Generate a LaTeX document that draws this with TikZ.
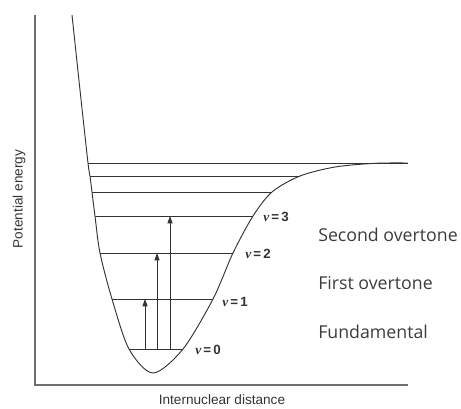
\documentclass[tikz,border=0pt]{standalone}
\usepackage{fontspec}
\setmainfont{Liberation Sans}
\newfontfamily\serifV{Liberation Serif}
\newfontfamily\notaFont{Open Sans}
\usepackage{tikz}
\usetikzlibrary{arrows.meta, positioning, calc}
\definecolor{grisCurva}{HTML}{333333}
\definecolor{grisEje}{HTML}{6E6E6E}
\definecolor{grisTexto}{HTML}{3C3C3C}
\newcommand{\vlev}[1]{{\serifV\itshape v}\,=\,#1}

\begin{document}
\begin{tikzpicture}[x=0.75pt, y=-0.75pt,
        eje/.style={grisEje, line width=0.9pt},
        curva/.style={grisCurva, line width=0.7pt},
        nivel/.style={grisCurva, line width=0.6pt},
        trans/.style={-{Triangle[length=5.5pt, width=3.8pt]}, grisCurva, line width=0.6pt},
        vlab/.style={anchor=west, inner sep=0pt, font=\fontsize{10}{12}\selectfont\bfseries, text=grisCurva},
        nota/.style={anchor=west, inner sep=0pt, font=\notaFont\fontsize{13.3}{16}\selectfont, text=grisTexto},
        ejelab/.style={inner sep=0pt, font=\fontsize{10.2}{12}\selectfont, text=grisCurva}
    ]
        \useasboundingbox (0,0) rectangle (461,408);
        % axes
        \coordinate (ytop) at (35,15);
        \coordinate (orig) at (35,385);
        \coordinate (xend) at (408,385);
        \draw[eje] (ytop) -- (orig) -- (xend);
        \node[ejelab, rotate=90] (ylab) at (19,199) {Potential energy};
        \node[ejelab] (xlab) at (222,400) {Internuclear distance};
        % potential curve
        \draw[curva] plot[smooth, tension=0.5] coordinates {
            (72,15) (80,90) (88,163) (90,176) (92,192) (95,216) (100,253)
            (112,299) (129,349) (153,373) (183,349) (213,299) (233,253)
            (253,216) (272,192) (300,176) (335,167) (375,163.3) (408,163)};
        % vibrational levels
        \coordinate (l0) at (129,349); \coordinate (r0) at (183,349);
        \coordinate (l1) at (112,299); \coordinate (r1) at (213,299);
        \coordinate (l2) at (100,253); \coordinate (r2) at (233,253);
        \coordinate (l3) at (95,216);  \coordinate (r3) at (253,216);
        \coordinate (l4) at (92,192);  \coordinate (r4) at (272,192);
        \coordinate (l5) at (90,176);  \coordinate (r5) at (300,176);
        \coordinate (l6) at (88,163);  \coordinate (r6) at (408,163);
        \draw[nivel] (l0) -- (r0); \draw[nivel] (l1) -- (r1);
        \draw[nivel] (l2) -- (r2); \draw[nivel] (l3) -- (r3);
        \draw[nivel] (l4) -- (r4); \draw[nivel] (l5) -- (r5);
        \draw[nivel] (l6) -- (r6);
        % transitions
        \coordinate (t1a) at (145,349); \coordinate (t1b) at (145,299);
        \coordinate (t2a) at (157,349); \coordinate (t2b) at (157,253);
        \coordinate (t3a) at (170,349); \coordinate (t3b) at (170,216);
        \draw[trans] (t1a) -- (t1b);
        \draw[trans] (t2a) -- (t2b);
        \draw[trans] (t3a) -- (t3b);
        % labels
        \node[vlab] (v0) at (195,350) {\vlev{0}};
        \node[vlab] (v1) at (222,302) {\vlev{1}};
        \node[vlab] (v2) at (245,254) {\vlev{2}};
        \node[vlab] (v3) at (263,217) {\vlev{3}};
        \node[nota] (n2) at (318,235) {Second overtone};
        \node[nota] (n1) at (318,283) {First overtone};
        \node[nota] (n0) at (318,332) {Fundamental};
    \end{tikzpicture}
\end{document}
